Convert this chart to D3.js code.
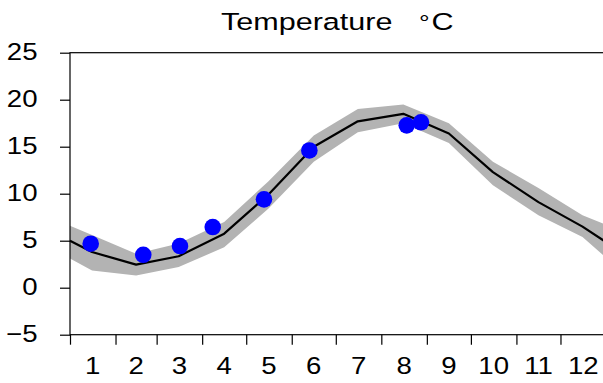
<!DOCTYPE html>
<html><head><meta charset="utf-8">
<script src="https://cdn.jsdelivr.net/npm/d3@7"></script>
<style>body{margin:0;background:#fff;overflow:hidden}</style>
</head><body><svg id="c" width="603" height="383"></svg>
<script>
const monthLabels = ["1","2","3","4","5","6","7","8","9","10","11","12"];
const monthStartDays = [0,31,59,90,120,151,181,212,243,273,304,334,365];
const lineDays = [0,15,45,74,105,135,166,196,227,258,288,319,349,365];
const meanTemp = [5.0,3.8,2.45,3.35,5.75,9.9,15.0,17.7,18.5,16.4,12.3,9.1,6.5,4.85];
const bandUpper = [6.6,5.6,3.6,4.7,7.0,11.3,16.2,19.0,19.5,17.5,13.4,10.6,7.7,6.7];
const bandLower = [3.1,1.84,1.3,2.2,4.3,8.4,13.4,16.55,17.5,15.4,10.9,7.7,5.4,3.2];
const obsDays = [14.1,49.9,74.9,97.2,132.1,163,229.3,239];
const obsTemp = [4.68,3.5,4.43,6.45,9.4,14.6,17.27,17.6];
const yTicks = [-5,0,5,10,15,20,25];
const titleParts = ["Temperature", "\u00b0", "C"];

const FONT = "Liberation Sans, Arial, sans-serif";
const SX = 1.15, FS = 24;      // tick labels
const TSX = 1.3, TFS = 23.5;   // title
const svg = d3.select("#c");
const x = d3.scaleLinear().domain([0,365]).range([70,606]);
const y = d3.scaleLinear().domain([-5,25]).range([334.7,52.7]);

// band
svg.append("path")
  .datum(lineDays.map((d,i)=>({d, lo:bandLower[i], hi:bandUpper[i]})))
  .attr("fill","#b3b3b3")
  .attr("d", d3.area().x(p=>x(p.d)).y0(p=>y(p.lo)).y1(p=>y(p.hi)));
// line
svg.append("path")
  .datum(lineDays.map((d,i)=>({d, v:meanTemp[i]})))
  .attr("fill","none").attr("stroke","#000").attr("stroke-width",2.2)
  .attr("stroke-linejoin","round")
  .attr("d", d3.line().x(p=>x(p.d)).y(p=>y(p.v)));
// points
svg.selectAll("circle.obs").data(obsDays.map((d,i)=>({d, v:obsTemp[i]})))
  .join("circle").attr("class","obs")
  .attr("cx",p=>x(p.d)).attr("cy",p=>y(p.v)).attr("r",8.3)
  .attr("fill","#0000ff");

// frame
svg.append("rect").attr("x",x(0)).attr("y",y(25))
  .attr("width",x(365)-x(0)).attr("height",y(-5)-y(25))
  .attr("fill","none").attr("stroke","#000").attr("stroke-width",1.2);

// axes ticks
const ya = svg.append("g").attr("transform",`translate(${x(0)},0)`)
  .call(d3.axisLeft(y).tickValues(yTicks).tickSize(10).tickFormat(""));
const xa = svg.append("g").attr("transform",`translate(0,${y(-5)})`)
  .call(d3.axisBottom(x).tickValues(monthStartDays).tickSize(10).tickFormat(""));
[ya,xa].forEach(g=>{g.select(".domain").remove(); g.selectAll("line").attr("stroke","#000").attr("stroke-width",1.2);});

// y labels
svg.selectAll("text.yl").data(yTicks).join("text").attr("class","yl")
  .attr("transform",v=>`translate(37.5,${y(v)+7}) scale(${SX},1)`)
  .attr("text-anchor","end").attr("font-family",FONT)
  .attr("font-size",FS).attr("fill","#000")
  .text(v=>v<0?"\u2212"+Math.abs(v):String(v));
// x labels
svg.selectAll("text.xl").data(monthLabels).join("text").attr("class","xl")
  .attr("transform",(t,i)=>`translate(${x((monthStartDays[i]+monthStartDays[i+1])/2)},374) scale(${SX},1)`)
  .attr("text-anchor","middle").attr("font-family",FONT)
  .attr("font-size",FS).attr("fill","#000").text(t=>t);
// title
const titleX = [221, 419, 431.5];
svg.selectAll("text.tt").data(titleParts).join("text").attr("class","tt")
  .attr("transform",(t,i)=>`translate(${titleX[i]},29.5) scale(${TSX},1)`)
  .attr("font-family",FONT).attr("font-size",(t,i)=>i===1?TFS-3:TFS).attr("fill","#000")
  .text(t=>t);
</script></body></html>
